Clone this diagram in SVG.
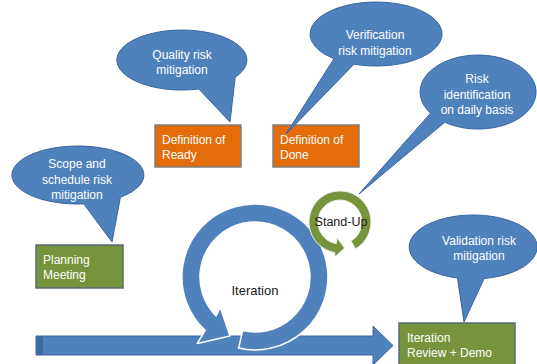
<svg xmlns="http://www.w3.org/2000/svg" width="537" height="364" viewBox="0 0 537 364">
  <style>
    .callout { fill: #4F81BD; stroke: #3A64A0; stroke-width: 1; }
    .ctext { fill: #FFFFFF; font-family: "Liberation Sans", Arial, sans-serif; font-size: 12px; text-anchor: middle; }
    .orange { fill: #E46C0A; stroke: #7F7F7F; stroke-width: 1.5; }
    .green { fill: #77933C; stroke: #5A6A7A; stroke-width: 1.5; }
    .btext { fill: #FFFFFF; font-family: "Liberation Sans", Arial, sans-serif; font-size: 12px; }
    .dark { fill: #1A1A1A; font-family: "Liberation Sans", Arial, sans-serif; font-size: 13px; text-anchor: middle; }
  </style>
  <rect width="537" height="364" fill="#FFFFFF"/>

  <!-- timeline arrow -->
  <g id="connectors">
    <polygon points="36,336 373,336 373,326 393,345.5 373,365 373,355 36,355" fill="#4F81BD" stroke="#3A64A0" stroke-width="1"/>
    <rect x="36" y="336" width="7" height="19" fill="#3E6AA0"/>
  </g>

  <!-- iteration cycle ring -->
  <g id="iteration">
    <path d="M238.6,348.1 A73,73 0 1 0 205.2,330.4 L197.3,343.4 L230.0,335.9 L220.3,307.2 L216.1,315.9 A55,55 0 1 1 242.6,330.6 Z" fill="#4F81BD" stroke="#FFFFFF" stroke-width="1.5" stroke-linejoin="round"/>
    <text class="dark" x="255" y="295">Iteration</text>
  </g>

  <!-- daily stand-up ring -->
  <g id="standup">
    <path d="M355.5,248.8 A31,31 0 1 0 334.6,252.5 L335.1,256.7 L344.6,248.1 L337.2,237.8 L336.2,243.7 A22,22 0 1 1 351,241 Z" fill="#77933C" stroke="#EEF2E6" stroke-width="1" stroke-linejoin="round"/>
    <text class="dark" x="341" y="226" style="font-size:12.5px">Stand-Up</text>
  </g>

  <!-- boxes -->
  <g id="ready">
    <rect class="orange" x="155" y="125" width="86" height="42"/>
    <text class="btext" x="162" y="144">Definition of</text>
    <text class="btext" x="162" y="159">Ready</text>
  </g>
  <g id="done">
    <rect class="orange" x="273" y="125" width="86" height="42"/>
    <text class="btext" x="280" y="144">Definition of</text>
    <text class="btext" x="280" y="159">Done</text>
  </g>
  <g id="planning">
    <rect class="green" x="36" y="245" width="87" height="43"/>
    <text class="btext" x="43" y="264">Planning</text>
    <text class="btext" x="43" y="279">Meeting</text>
  </g>
  <g id="review">
    <rect class="green" x="399" y="323" width="116" height="45"/>
    <text class="btext" x="407" y="342">Iteration</text>
    <text class="btext" x="407" y="357">Review + Demo</text>
  </g>

  <!-- callouts -->
  <g id="quality-risk">
    <path class="callout" d="M235.2,77.2 A65,30 0 1 0 198.8,89.0 L230,122 Z"/>
    <text class="ctext" x="182" y="59">Quality risk</text>
    <text class="ctext" x="182" y="74">mitigation</text>
  </g>
  <g id="verification-risk">
    <path class="callout" d="M354.0,64.2 A66,32 0 1 0 334.0,58.7 L286,134 Z"/>
    <text class="ctext" x="375" y="39">Verification</text>
    <text class="ctext" x="375" y="55">risk mitigation</text>
  </g>
  <g id="risk-identification">
    <path class="callout" d="M444.7,122.3 A58,37 0 1 0 430.5,113.2 L359,194 Z"/>
    <text class="ctext" x="477" y="83">Risk</text>
    <text class="ctext" x="477" y="99">identification</text>
    <text class="ctext" x="477" y="114">on daily basis</text>
  </g>
  <g id="scope-risk">
    <path class="callout" d="M120.4,197.2 A66,29 0 1 0 83.8,203.9 L112,242 Z"/>
    <text class="ctext" x="77" y="168">Scope and</text>
    <text class="ctext" x="77" y="184">schedule risk</text>
    <text class="ctext" x="77" y="199">mitigation</text>
  </g>
  <g id="validation-risk">
    <path class="callout" d="M484.1,278.5 A64,32 0 1 0 457.5,278.0 L464,322 Z"/>
    <text class="ctext" x="479" y="245">Validation risk</text>
    <text class="ctext" x="479" y="260">mitigation</text>
  </g>
</svg>
